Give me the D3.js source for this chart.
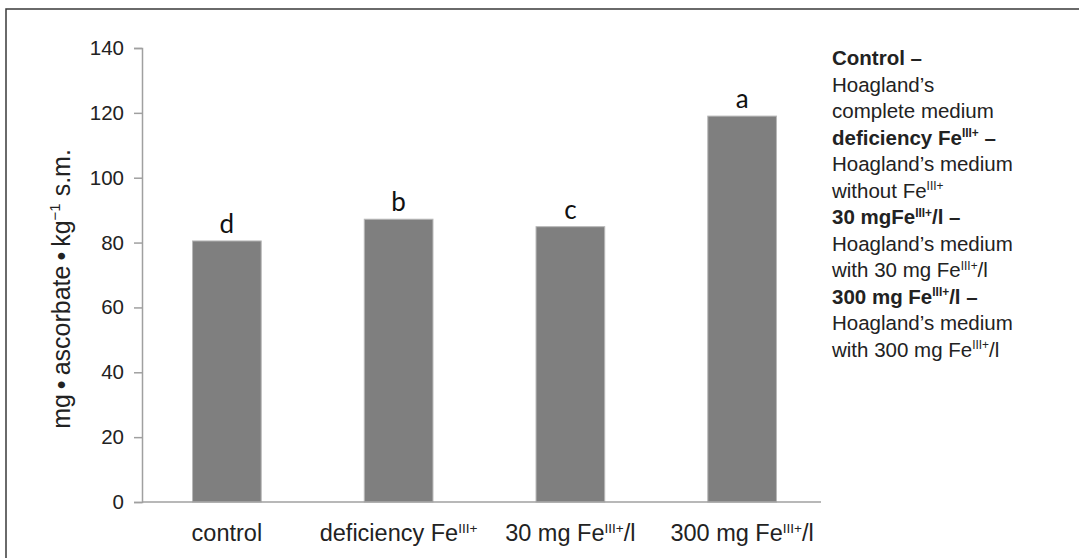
<!DOCTYPE html>
<html>
<head>
<meta charset="utf-8">
<title>Ascorbate content</title>
<script src="https://cdn.jsdelivr.net/npm/d3@7"></script>
<style>
  body { margin: 0; background: #fff; }
  svg text { font-family: "Liberation Sans", Arial, sans-serif; fill: #222; }
</style>
</head>
<body>
<script>
// data
var categories = ["control", "deficiency", "30 mg", "300 mg"];
var values = [80.5, 87.2, 84.9, 119.0];
var letters = ["d", "b", "c", "a"];
var yTicks = [0, 20, 40, 60, 80, 100, 120, 140];
// x labels: [text before superscript, superscript, text after]
var xLabels = [["control", "", ""], ["deficiency Fe", "III+", ""], ["30 mg Fe", "III+", "/l"], ["300 mg Fe", "III+", "/l"]];
// legend lines: [bold?, text, superscript, tail]
var legendLines = [
  [true, "Control \u2013", "", ""],
  [false, "Hoagland\u2019s", "", ""],
  [false, "complete medium", "", ""],
  [true, "deficiency Fe", "III+", " \u2013"],
  [false, "Hoagland\u2019s medium", "", ""],
  [false, "without Fe", "III+", ""],
  [true, "30 mgFe", "III+", "/l \u2013"],
  [false, "Hoagland\u2019s medium", "", ""],
  [false, "with 30 mg Fe", "III+", "/l"],
  [true, "300 mg Fe", "III+", "/l \u2013"],
  [false, "Hoagland\u2019s medium", "", ""],
  [false, "with 300 mg Fe", "III+", "/l"]
];

var width = 1079, height = 558;
var svg = d3.select("body").append("svg").attr("width", width).attr("height", height);

// outer frame
svg.append("rect")
    .attr("x", 6).attr("y", 9)
    .attr("width", 1100).attr("height", 600)
    .attr("fill", "none").attr("stroke", "#3a3a3a").attr("stroke-width", 1.5);

var x = d3.scaleBand().domain(categories).range([141, 828]).paddingInner(0.6).paddingOuter(0.3);
var y = d3.scaleLinear().domain([0, 140]).range([502, 48]);

function addSup(sel, main, sup, tail) {
  sel.append("tspan").text(main);
  if (sup) {
    sel.append("tspan").attr("font-size", "0.58em").attr("dy", "-0.6em").text(sup);
    sel.append("tspan").attr("dy", "0.35em").text(tail);
  }
}

// y axis
var yAxis = d3.axisLeft(y).tickValues(yTicks).tickSize(8).tickPadding(10);
var gy = svg.append("g").attr("transform", "translate(142,0)").call(yAxis);
gy.select(".domain").attr("stroke", "#a0a0a0").attr("stroke-width", 1.5);
gy.selectAll(".tick line").attr("stroke", "#a0a0a0").attr("stroke-width", 1.5);
gy.selectAll(".tick text").attr("font-size", 20.5).attr("fill", "#222");

// bars
svg.selectAll("rect.bar").data(values).enter().append("rect")
    .attr("class", "bar")
    .attr("x", function (d, i) { return x(categories[i]); })
    .attr("y", function (d) { return y(d); })
    .attr("width", x.bandwidth())
    .attr("height", function (d) { return y(0) - y(d); })
    .attr("fill", "#7f7f7f").attr("stroke", "#b8b8b8").attr("stroke-width", 1);

// x axis baseline
svg.append("line")
    .attr("x1", 142).attr("x2", 821)
    .attr("y1", y(0)).attr("y2", y(0))
    .attr("stroke", "#a0a0a0").attr("stroke-width", 1.5);

// significance letters
svg.selectAll("text.letter").data(values).enter().append("text")
    .attr("class", "letter")
    .attr("x", function (d, i) { return x(categories[i]) + x.bandwidth() / 2; })
    .attr("y", function (d) { return y(d) - 8; })
    .attr("text-anchor", "middle")
    .style("font-family", "Lato, 'Open Sans', sans-serif")
    .style("fill", "#111")
    .attr("font-size", 26)
    .text(function (d, i) { return letters[i]; });

// x labels
xLabels.forEach(function (l, i) {
  var t = svg.append("text")
      .attr("x", x(categories[i]) + x.bandwidth() / 2)
      .attr("y", 541)
      .attr("text-anchor", "middle")
      .attr("font-size", 23.5);
  addSup(t, l[0], l[1], l[2]);
});

// y axis title
var yt = svg.append("text")
    .attr("transform", "translate(70,289) rotate(-90)")
    .attr("text-anchor", "middle")
    .attr("font-size", 25);
yt.append("tspan").text("mg\u2009\u2022\u2009ascorbate\u2009\u2022\u2009kg");
yt.append("tspan").attr("font-size", "0.6em").attr("dy", "-0.7em").text("\u22121");
yt.append("tspan").attr("dy", "0.42em").text(" s.m.");

// legend text
legendLines.forEach(function (l, i) {
  var t = svg.append("text")
      .attr("x", 832)
      .attr("y", 65 + i * 26.5)
      .attr("font-size", 20.5)
      .attr("font-weight", l[0] ? "bold" : "normal");
  addSup(t, l[1], l[2], l[3]);
});
</script>
</body>
</html>
